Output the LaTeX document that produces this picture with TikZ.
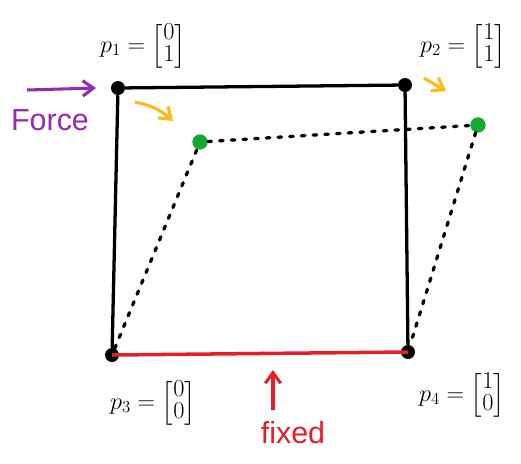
\documentclass[tikz,border=0pt]{standalone}
\usepackage{amsmath}
\usepackage{fontspec}
\setmainfont{Liberation Sans}
\usepackage{tikz}
\usetikzlibrary{positioning,arrows.meta}
\definecolor{FPurple}{RGB}{150,40,180}
\definecolor{FOrange}{RGB}{255,185,20}
\definecolor{FGreen}{RGB}{20,170,50}
\definecolor{FRed}{RGB}{230,30,40}
\newcommand{\vecpt}[2]{{\renewcommand{\arraystretch}{0.72}\begin{bmatrix}#1\\#2\end{bmatrix}}}

\begin{document}
\begin{tikzpicture}[x=0.03cm,y=-0.03cm,
  corner/.style={circle,fill=black,inner sep=0pt,minimum size=0.42cm},
  moved/.style={circle,fill=FGreen,inner sep=0pt,minimum size=0.46cm},
  lbl/.style={font=\fontsize{22}{26}\selectfont,inner sep=0pt},
  side/.style={line width=2.8pt,draw=black},
  displine/.style={line width=2.8pt,draw=black,line cap=round,dash pattern=on 3pt off 7pt},
  arr/.style={-{Straight Barb[length=3.2mm,width=4.6mm]},line width=2.6pt},
  hand/.style={font=\fontsize{26}{30}\selectfont},
]
\useasboundingbox (0,0) rectangle (521,463);

% Eckpunkte
\node[corner] (p1) at (118,88) {};
\node[corner] (p2) at (405,85) {};
\node[corner] (p3) at (112,355) {};
\node[corner] (p4) at (408,352) {};

% verschobene Punkte
\node[moved] (g1) at (200,142) {};
\node[moved] (g2) at (478,125) {};

% Beschriftungen
\node[lbl] (l1) at (143,46) {$p_1=\vecpt{0}{1}$};
\node[lbl] (l2) at (463,46) {$p_2=\vecpt{1}{1}$};
\node[lbl] (l3) at (153,403) {$p_3=\vecpt{0}{0}$};
\node[lbl] (l4) at (462,395) {$p_4=\vecpt{1}{0}$};

% Quadrat
\draw[side] (p1) -- (p2) -- (p4);
\draw[side] (p1) -- (p3);
\draw[line width=3pt,draw=FRed] (p3.center) -- (p4.center);

% Verschiebung
\draw[displine] (p3) -- (g1) -- (g2) -- (p4);

% Kraft
\coordinate (fa) at (27,90);
\coordinate (fb) at (96,88);
\draw[arr,draw=FPurple] (fa) -- (fb);
\node[hand,text=FPurple] (force) at (50,120) {Force};

% Bewegungsrichtung
\coordinate (o1a) at (135,102);
\coordinate (o1b) at (173,121);
\draw[arr,draw=FOrange] (o1a) to[bend left=15] (o1b);
\coordinate (o2a) at (424,78);
\coordinate (o2b) at (446,91);
\draw[arr,draw=FOrange] (o2a) -- (o2b);

% fest
\coordinate (ra) at (273,410);
\coordinate (rb) at (273,370);
\draw[arr,draw=FRed] (ra) -- (rb);
\node[hand,text=FRed] (fixed) at (293,433) {fixed};
\end{tikzpicture}
\end{document}
